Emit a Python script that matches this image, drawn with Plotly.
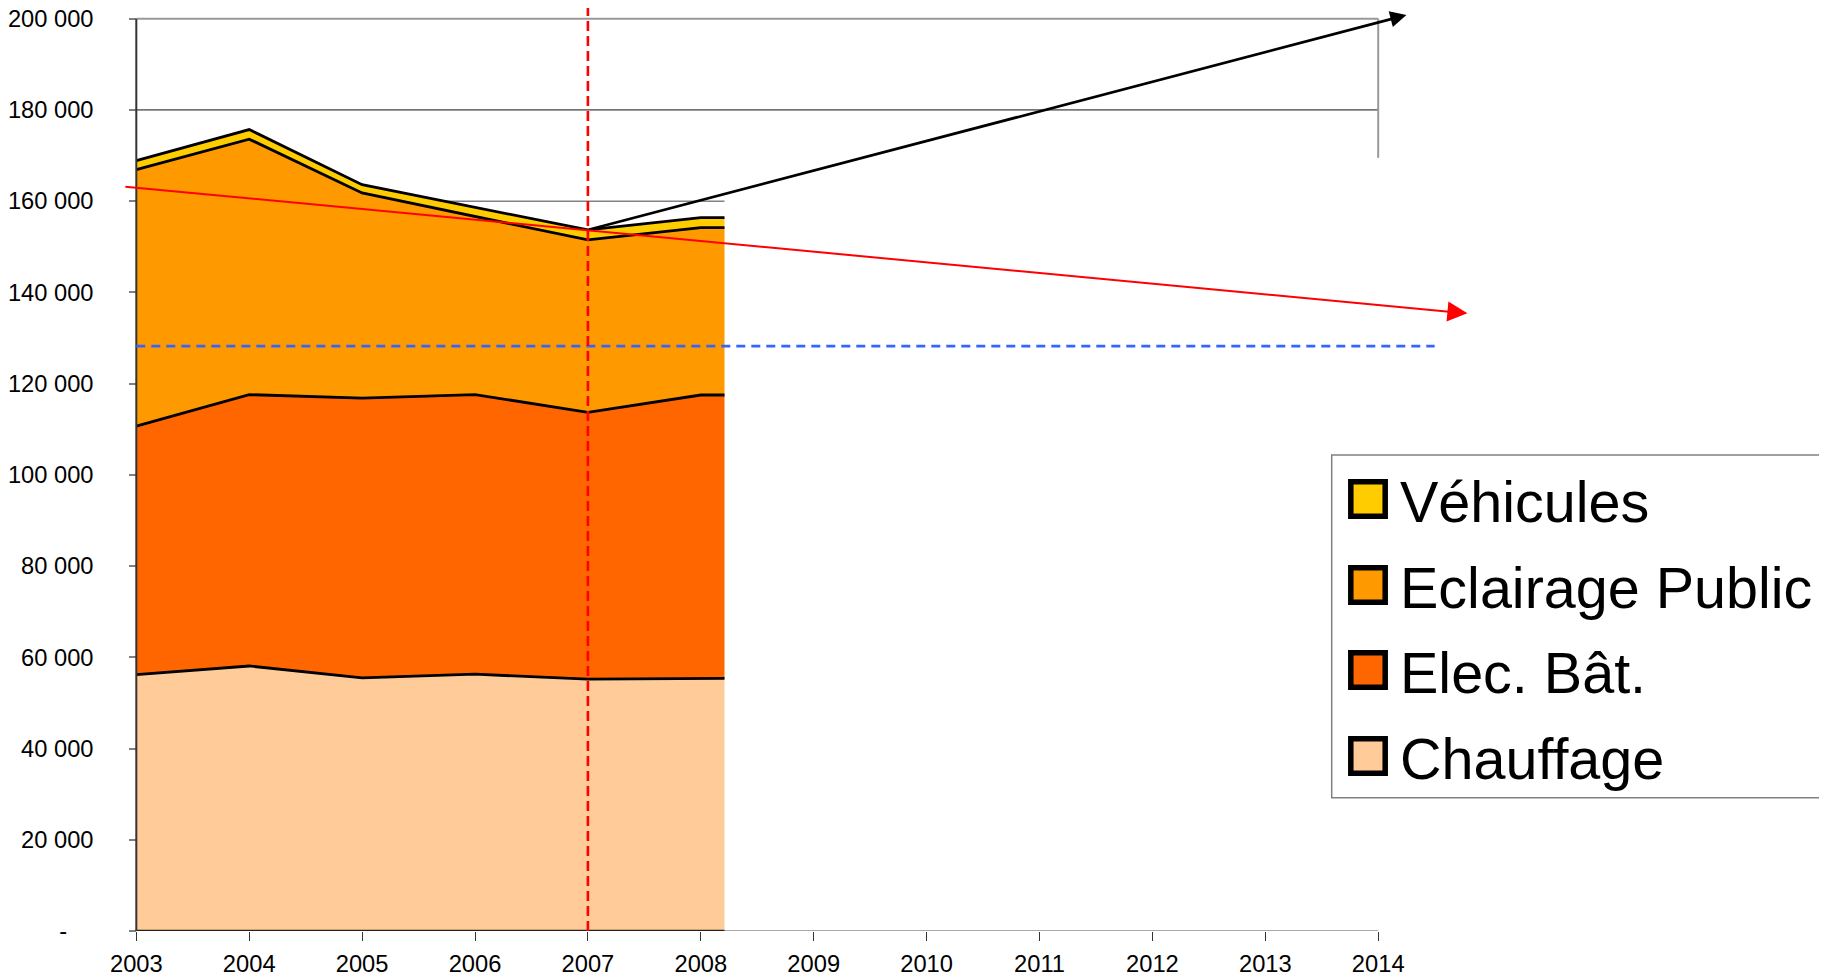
import plotly.graph_objects as go

# ---------------- data ----------------
years = [2003, 2004, 2005, 2006, 2007, 2008]
chauffage = [56200, 58100, 55500, 56300, 55200, 55400]
elec_bat = [54500, 59500, 61300, 61300, 58500, 62100]
eclairage = [56200, 56000, 45000, 39000, 37800, 36700]
vehicules = [2000, 2100, 1800, 2100, 2200, 2200]
series_names = ["Chauffage", "Elec. Bât.", "Eclairage Public", "Véhicules"]
series_colors = ["#FFCC99", "#FF6600", "#FF9900", "#FFCC00"]
axis_years = list(range(2003, 2015))
y_ticks = list(range(0, 200001, 20000))
area_end_year = 2008.21

# trend / reference lines
ref_year = 2007
black_trend = {"x0": 2007, "y0": 153700, "x1": 2014.25, "y1": 200800}
red_trend = {"x0": 2002.89, "y0": 163200, "x1": 2014.79, "y1": 135400}
blue_target = {"x0": 2003, "x1": 2014.5, "y": 128200}

# ---------------- geometry ----------------
W, H = 1827, 974
OFF = 8                      # page body margin
y0_screen, y200_screen = 931.0, 18.7
PH = y0_screen - OFF
MB = H - PH
px_per_year = 112.9
x_axis_screen = 136.3
x0 = 2003 - (x_axis_screen - OFF) / px_per_year
x1 = x0 + W / px_per_year
y_top = 200000 * PH / (y0_screen - y200_screen)

def px_x(p):
    return (p - OFF) / W

def px_y(p):
    return (PH - (p - OFF)) / PH

FONT = "Arial, Liberation Sans, sans-serif"

fig = go.Figure()

x_ext = years + [area_end_year]
for name, vals, col in zip(series_names, [chauffage, elec_bat, eclairage, vehicules], series_colors):
    fig.add_trace(go.Scatter(
        x=x_ext, y=vals + [vals[-1]], name=name, mode="lines",
        stackgroup="one", fillcolor=col,
        line=dict(color="black", width=2.8, shape="linear"),
        showlegend=False, hoverinfo="skip"))

shapes = []
shapes.append(dict(type="line", xref="x", yref="y", x0=2003, x1=2014, y0=200000, y1=200000,
                   line=dict(color="#999999", width=2), layer="below"))
shapes.append(dict(type="line", xref="x", yref="y", x0=2003, x1=2014, y0=180000, y1=180000,
                   line=dict(color="#111111", width=1), layer="below"))
shapes.append(dict(type="line", xref="x", yref="y", x0=2003, x1=area_end_year, y0=160000, y1=160000,
                   line=dict(color="#444444", width=1), layer="below"))
shapes.append(dict(type="line", xref="x", yref="y", x0=2014, x1=2014, y0=169500, y1=200000,
                   line=dict(color="#999999", width=2), layer="below"))
shapes.append(dict(type="line", xref="x", yref="y", x0=2003, x1=2014, y0=0, y1=0,
                   line=dict(color="#AAAAAA", width=2), layer="above"))
shapes.append(dict(type="line", xref="x", yref="y", x0=2003, x1=area_end_year, y0=0, y1=0,
                   line=dict(color="#222222", width=2.4), layer="above"))
shapes.append(dict(type="line", xref="x", yref="y", x0=2003, x1=2003, y0=0, y1=200000,
                   line=dict(color="#333333", width=2), layer="above"))
shapes.append(dict(type="line", xref="x", yref="y", x0=blue_target["x0"], x1=blue_target["x1"],
                   y0=blue_target["y"], y1=blue_target["y"],
                   line=dict(color="#3366FF", width=2.7, dash="9px,6px"), layer="above"))
shapes.append(dict(type="line", xref="x", yref="paper", x0=ref_year, x1=ref_year, y0=0, y1=1,
                   line=dict(color="#FF0000", width=2.6, dash="10px,5px"), layer="above"))

# legend box (manual)
shapes.append(dict(type="rect", xref="paper", yref="paper",
                   x0=px_x(1331.7), x1=px_x(1845), y0=px_y(797.7), y1=px_y(455),
                   line=dict(color="#808080", width=1.5), fillcolor="white", layer="above"))

annotations = []
legend_order = list(zip(series_names, series_colors))[::-1]
centers = [499, 585, 670, 756]
for (name, col), cy in zip(legend_order, centers):
    shapes.append(dict(type="rect", xref="paper", yref="paper",
                       x0=px_x(1350.8), x1=px_x(1385.2), y0=px_y(cy + 17.2), y1=px_y(cy - 17.2),
                       line=dict(color="black", width=5.5), fillcolor=col, layer="above"))
    annotations.append(dict(xref="paper", yref="paper", x=px_x(1398), y=px_y(cy + 3),
                            text=name, showarrow=False, xanchor="left", yanchor="middle",
                            font=dict(family=FONT, size=57.5, color="black")))

annotations.append(dict(xref="x", yref="y", axref="x", ayref="y",
                        x=black_trend["x1"], y=black_trend["y1"],
                        ax=black_trend["x0"], ay=black_trend["y0"],
                        text="", showarrow=True, arrowhead=2, arrowsize=1.2,
                        arrowwidth=2.7, arrowcolor="black", standoff=0, startstandoff=0))
annotations.append(dict(xref="x", yref="y", axref="x", ayref="y",
                        x=red_trend["x1"], y=red_trend["y1"],
                        ax=red_trend["x0"], ay=red_trend["y0"],
                        text="", showarrow=True, arrowhead=2, arrowsize=2.0,
                        arrowwidth=2, arrowcolor="#FF0000", standoff=0, startstandoff=0))

def fmt(v):
    if v == 0:
        return "-" + "\u00a0" * 4
    return f"{v:,}".replace(",", " ")

fig.update_layout(
    width=W, height=H,
    margin=dict(l=0, r=0, t=0, b=MB, autoexpand=False),
    paper_bgcolor="white", plot_bgcolor="white",
    shapes=shapes, annotations=annotations,
    showlegend=False,
    font=dict(family=FONT, size=23.7, color="black"),
    xaxis=dict(range=[x0, x1], tickvals=axis_years, ticktext=[str(y) for y in axis_years],
               showgrid=False, zeroline=False, showline=False, automargin=False,
               ticks="outside", ticklen=9, tickwidth=1.2, tickcolor="#333333",
               ticklabelstandoff=3, ticklabeloverflow="allow",
               tickfont=dict(family=FONT, size=23.7, color="black"),
               fixedrange=True),
    yaxis=dict(range=[0, y_top], tickvals=y_ticks, ticktext=[fmt(v) for v in y_ticks],
               anchor="free", position=px_x(x_axis_screen), automargin=False,
               showgrid=False, zeroline=False, showline=False,
               ticks="outside", ticklen=7, tickwidth=1.5, tickcolor="#808080",
               ticklabelstandoff=31, ticklabeloverflow="allow",
               tickfont=dict(family=FONT, size=23.7, color="black"),
               fixedrange=True),
)

fig.write_html("out.html")
